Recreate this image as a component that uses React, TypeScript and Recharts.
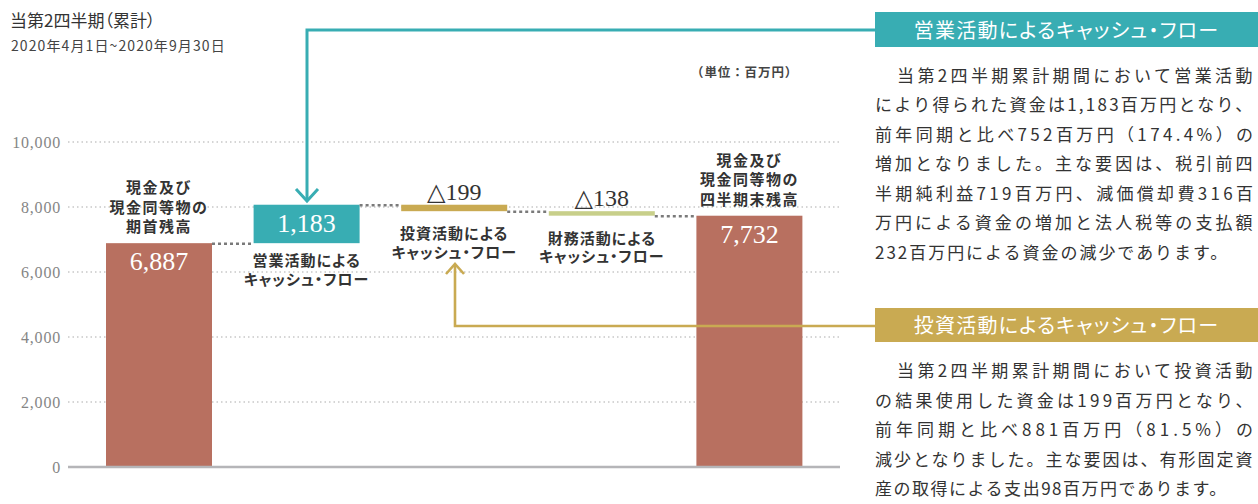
import React from 'react';
import { BarChart, Bar, XAxis, YAxis, CartesianGrid, ReferenceLine } from 'recharts';

// ---- data ----
const categories = ['期首残高', '営業活動', '投資活動', '財務活動', '期末残高'];
const flowValues = [6887, 1183, -199, -138, 7732];
const isTotal = [true, false, false, false, true];
const valueLabels = ['6,887', '1,183', '△199', '△138', '7,732'];
const categoryLabels = [
  ['現金及び', '現金同等物の', '期首残高'],
  ['営業活動による', 'キャッシュ・フロー'],
  ['投資活動による', 'キャッシュ・フロー'],
  ['財務活動による', 'キャッシュ・フロー'],
  ['現金及び', '現金同等物の', '四半期末残高'],
];
const yTicks = [0, 2000, 4000, 6000, 8000, 10000];

const operatingText = [
  '当第2四半期累計期間において営業活動',
  'により得られた資金は1,183百万円となり、',
  '前年同期と比べ752百万円（174.4%）の',
  '増加となりました。主な要因は、税引前四',
  '半期純利益719百万円、減価償却費316百',
  '万円による資金の増加と法人税等の支払額',
  '232百万円による資金の減少であります。',
];
const investingText = [
  '当第2四半期累計期間において投資活動',
  'の結果使用した資金は199百万円となり、',
  '前年同期と比べ881百万円（81.5%）の',
  '減少となりました。主な要因は、有形固定資',
  '産の取得による支出98百万円であります。',
];

// ---- styles ----
const BAR_COLORS = ['#b87060', '#38adb3', '#c9aa52', '#c8cf8a', '#b87060'];
const TEAL = '#38adb3';
const GOLD = '#c9aa52';
const CJK = '"Noto Sans CJK JP", "Noto Sans", sans-serif';
const SERIF = '"Liberation Serif", "DejaVu Serif", serif';

const CHART_W = 860;
const CHART_H = 504;
const MARGIN = { top: 142, right: 20, bottom: 37, left: 0 };
const YAXIS_W = 68;
const PAD = 17;
const BAND = (CHART_W - MARGIN.left - MARGIN.right - YAXIS_W - 2 * PAD) / categories.length;

// build waterfall table
const tableData = (() => {
  let running = 0;
  return categories.map((name, i) => {
    const v = flowValues[i];
    let base: number;
    if (isTotal[i]) {
      base = 0;
      running = v;
    } else {
      base = v >= 0 ? running : running + v;
      running += v;
    }
    return { name, base, height: Math.abs(v) };
  });
})();

const WaterfallShape = (props: any) => {
  const { x, y, width, height, index } = props;
  const i = index as number;
  const v = flowValues[i];
  const total = isTotal[i];
  const top = y;
  const bottom = y + height;
  const level = total || v >= 0 ? top : bottom;
  const cx = x + width / 2;
  const gap = BAND - width;
  const lines = categoryLabels[i];
  return (
    <g>
      <rect x={x} y={y} width={width} height={height} fill={BAR_COLORS[i]} />
      {i < categories.length - 1 && (
        <line
          x1={x + width}
          x2={x + width + gap}
          y1={level + 0.5}
          y2={level + 0.5}
          stroke="#7a7a7a"
          strokeWidth={2.5}
          strokeDasharray="3 3"
        />
      )}
      {total || v >= 0 ? (
        <text x={cx} y={top + 27} textAnchor="middle" fill="#fff" fontFamily={SERIF} fontSize={26}>
          {valueLabels[i]}
        </text>
      ) : (
        <text x={cx} y={top - 5} textAnchor="middle" fill="#333" fontFamily={SERIF} fontSize={24}>
          {valueLabels[i]}
        </text>
      )}
      {total
        ? lines.map((t, k) => (
            <text
              key={k}
              x={cx}
              y={top - 11 - (lines.length - 1 - k) * 19.5}
              textAnchor="middle"
              fill="#333"
              fontFamily={CJK}
              fontWeight={700}
              fontSize={15}
              letterSpacing={1.5}
            >
              {t}
            </text>
          ))
        : lines.map((t, k) => (
            <text
              key={k}
              x={cx}
              y={bottom + (i === 1 ? 23 : 28) + k * 18.5}
              textAnchor="middle"
              fill="#333"
              fontFamily={CJK}
              fontWeight={700}
              fontSize={15}
              letterSpacing={1}
              style={{ fontFeatureSettings: '"palt"' }}
            >
              {t}
            </text>
          ))}
    </g>
  );
};

let measureCtx: CanvasRenderingContext2D | null = null;
const measure = (t: string, font: string) => {
  if (!measureCtx && typeof document !== 'undefined') {
    measureCtx = document.createElement('canvas').getContext('2d');
  }
  if (!measureCtx) return t.length * 17;
  measureCtx.font = font;
  return measureCtx.measureText(t).width;
};

const PARA_FONT = 17;
const Paragraph = ({ lines, top, lastWidth }: { lines: string[]; top: number; lastWidth: number }) => (
  <div style={{ position: 'absolute', left: 875, top, width: 383 }}>
    {lines.map((t, k) => {
      const last = k === lines.length - 1;
      const indent = k === 0 ? 22 : 0;
      const target = (last ? lastWidth : 378) - indent;
      const n = Array.from(t).length;
      const natural = measure(t, `${PARA_FONT}px ${CJK}`);
      const ls = (target - natural) / (n - 1);
      return (
        <div
          key={k}
          style={{
            height: 29.5,
            lineHeight: '29.5px',
            fontSize: PARA_FONT,
            fontFamily: CJK,
            color: '#333',
            whiteSpace: 'nowrap',
            paddingLeft: indent,
            letterSpacing: ls,
          }}
        >
          {t}
        </div>
      );
    })}
  </div>
);

export default function App() {
  return (
    <div style={{ position: 'absolute', left: 0, top: 0, width: 1258, height: 504, background: '#fff', overflow: 'hidden' }}>
      <div style={{ position: 'absolute', left: 0, top: 0 }}>
        <BarChart width={CHART_W} height={CHART_H} data={tableData} margin={MARGIN} barSize={106}>
          <CartesianGrid vertical={false} stroke="#c8c8c8" strokeDasharray="1.5 3" strokeWidth={1.5} />
          <XAxis dataKey="name" hide padding={{ left: PAD, right: PAD }} />
          <YAxis
            width={YAXIS_W}
            domain={[0, 10000]}
            ticks={yTicks}
            interval={0}
            axisLine={false}
            tickLine={false}
            tickSize={0}
            tickMargin={7}
            tickFormatter={(v: number) => v.toLocaleString('en-US')}
            tick={{ fill: '#858585', fontSize: 16, fontFamily: SERIF, letterSpacing: 0.8 } as any}
          />
          <Bar dataKey="base" stackId="w" fill="transparent" isAnimationActive={false} />
          <Bar dataKey="height" stackId="w" shape={WaterfallShape} isAnimationActive={false} />
          <ReferenceLine y={0} stroke="#b5b5b8" strokeWidth={2.5} />
        </BarChart>
      </div>

      {/* titles */}
      <div style={{ position: 'absolute', left: 10, top: 8, fontFamily: CJK, fontSize: 17, color: '#333', lineHeight: '24px', whiteSpace: 'nowrap', fontFeatureSettings: '"palt"' }}>
        当第2四半期（累計）
      </div>
      <div style={{ position: 'absolute', left: 11, top: 36, fontFamily: CJK, fontSize: 14, color: '#444', lineHeight: '18px', letterSpacing: 1.1, whiteSpace: 'nowrap' }}>
        2020年4月1日~2020年9月30日
      </div>
      <div style={{ position: 'absolute', left: 691, top: 63, fontFamily: CJK, fontSize: 12.5, fontWeight: 700, color: '#444', lineHeight: '18px', letterSpacing: 0.9, whiteSpace: 'nowrap' }}>
        （単位：百万円）
      </div>

      {/* annotation arrows */}
      <svg width={1258} height={504} style={{ position: 'absolute', left: 0, top: 0, pointerEvents: 'none' }}>
        <polyline points="876,30 307,30 307,200" fill="none" stroke={TEAL} strokeWidth={3} />
        <polyline points="296,189 307,201 318,189" fill="none" stroke={TEAL} strokeWidth={3} />
        <polyline points="876,326 455,326 455,266" fill="none" stroke={GOLD} strokeWidth={2.6} />
        <polyline points="446,274 455,264 464,274" fill="none" stroke={GOLD} strokeWidth={2.6} />
      </svg>

      {/* right panel */}
      <div style={{ position: 'absolute', left: 875, top: 12, width: 383, height: 35, background: TEAL, color: '#fff', fontFamily: CJK, fontSize: 20, lineHeight: '35px', textAlign: 'center', whiteSpace: 'nowrap', fontFeatureSettings: '"palt"', letterSpacing: 1.2 }}>
        営業活動によるキャッシュ・フロー
      </div>
      <Paragraph lines={operatingText} top={59.5} lastWidth={353} />
      <div style={{ position: 'absolute', left: 875, top: 308, width: 383, height: 34, background: GOLD, color: '#fff', fontFamily: CJK, fontSize: 20, lineHeight: '34px', textAlign: 'center', whiteSpace: 'nowrap', fontFeatureSettings: '"palt"', letterSpacing: 1.2 }}>
        投資活動によるキャッシュ・フロー
      </div>
      <Paragraph lines={investingText} top={355} lastWidth={352} />
    </div>
  );
}
